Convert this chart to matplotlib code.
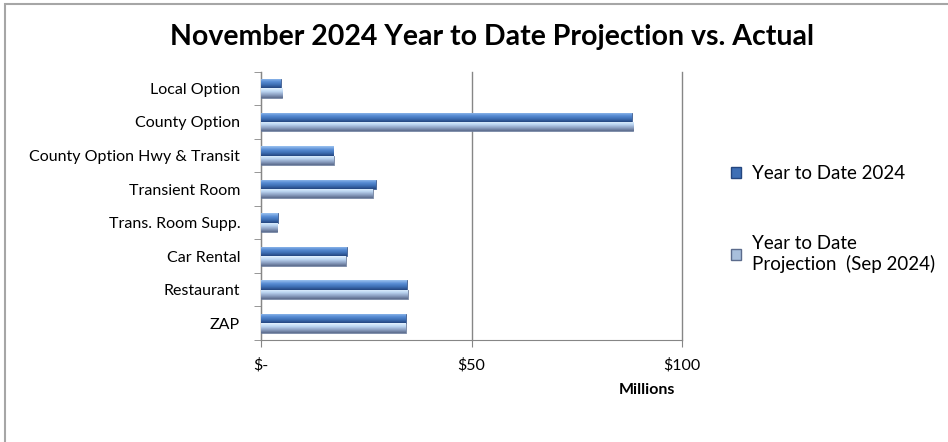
import numpy as np
import matplotlib
matplotlib.use("Agg")
import matplotlib.pyplot as plt
from matplotlib.colors import LinearSegmentedColormap
from matplotlib.patches import Rectangle

plt.rcParams['font.family'] = ['Lato', 'DejaVu Sans']

# data (millions of dollars), top to bottom as in the chart
categories = ['Local Option', 'County Option', 'County Option Hwy & Transit',
              'Transient Room', 'Trans. Room Supp.', 'Car Rental',
              'Restaurant', 'ZAP']
ytd_2024 = [4.7, 88.0, 17.1, 27.2, 4.0, 20.3, 34.6, 34.4]
ytd_projection = [5.0, 88.3, 17.3, 26.5, 3.8, 20.1, 34.8, 34.4]
series_labels = ['Year to Date 2024', 'Year to Date\nProjection  (Sep 2024)']
x_ticks = [0, 50, 100]
x_ticklabels = ['$-', '$50', '$100']

# gradients imitating the excel bevel look
dark_cmap = LinearSegmentedColormap.from_list(
    'dark', ['#9cc3f0', '#5b8fd6', '#3e6fb5', '#24467f'])
light_cmap = LinearSegmentedColormap.from_list(
    'light', ['#e4f3ff', '#bcd6f2', '#8ea2c4', '#5b6b8c'])

fig = plt.figure(figsize=(9.48, 4.42), dpi=100)
ax = fig.add_axes([0.2753, 0.2308, 0.4444, 0.607])

# border round the chart area (right and bottom edges fall outside)
fig.patches.append(Rectangle((5 / 948, -0.05), 1.2, 1.05 - 4 / 442,
                             transform=fig.transFigure, fill=False,
                             edgecolor='#a6a6a6', linewidth=1.5))

n = len(categories)
pos = np.arange(n)[::-1]
h = 0.28
bars_a = ax.barh(pos + h / 2, ytd_2024, height=h, color='#4a7cc0',
                 edgecolor='#2a4a80', linewidth=0.5, zorder=3)
bars_b = ax.barh(pos - h / 2, ytd_projection, height=h, color='#bcd6f2',
                 edgecolor='#5b6b8c', linewidth=0.5, zorder=3)

grad = np.linspace(0, 1, 64).reshape(-1, 1)
for bars, cmap in [(bars_a, dark_cmap), (bars_b, light_cmap)]:
    for b in bars:
        x0, y0, w, hh = b.get_x(), b.get_y(), b.get_width(), b.get_height()
        im = ax.imshow(grad, cmap=cmap, aspect='auto', zorder=4,
                       extent=(x0, x0 + w, y0, y0 + hh), origin='upper',
                       interpolation='bilinear')
        im.set_clip_path(b)

ax.set_xlim(0, 100)
ax.set_ylim(-0.5, n - 0.5)

ax.set_xticks(x_ticks)
ax.set_xticklabels(x_ticklabels, fontsize=11.5)
ax.set_yticks(pos)
ax.set_yticklabels(categories, fontsize=11.5)
ax.tick_params(axis='y', length=0, pad=15)
ax.set_yticks(np.arange(n + 1) - 0.5, minor=True)
ax.tick_params(axis='y', which='minor', length=5, color='#868686')
ax.tick_params(axis='x', length=5, color='#868686', pad=8)

ax.grid(axis='x', color='#868686', linewidth=1, zorder=0)
for gl in ax.get_xgridlines():
    gl.set_clip_on(False)
for side in ['top', 'right']:
    ax.spines[side].set_visible(False)
for side in ['left', 'bottom']:
    ax.spines[side].set_color('#868686')

ax.set_xlabel('Millions', fontsize=11.5, fontweight='bold')
ax.xaxis.set_label_coords(0.915, -0.16)

fig.suptitle('November 2024 Year to Date Projection vs. Actual',
             fontsize=20.5, fontweight='bold', x=492 / 948,
             y=1 - 37 / 442, va='center')

handles = [Rectangle((0, 0), 1, 1, facecolor='#3e6fb5', edgecolor='#24467f'),
           Rectangle((0, 0), 1, 1, facecolor='#a8bfdc', edgecolor='#5b6b8c')]
fig.legend(handles, series_labels, loc='upper left',
           bbox_to_anchor=(0.753, 0.665), frameon=False, fontsize=13.5,
           handlelength=0.55, handleheight=0.55, handletextpad=0.6,
           labelspacing=2.85)

fig.savefig('out.png', dpi=100)
